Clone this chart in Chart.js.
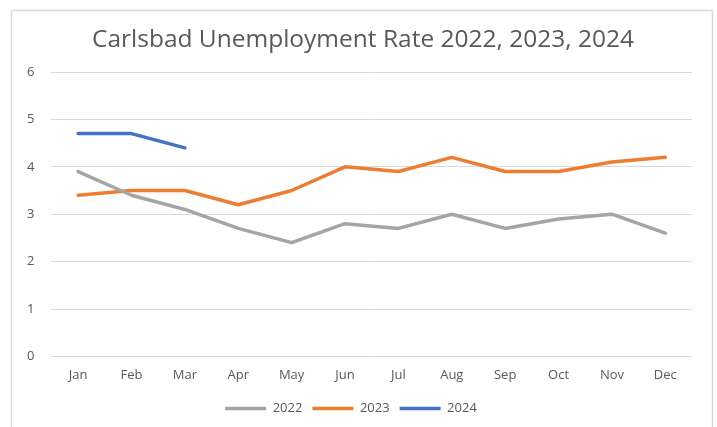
<!DOCTYPE html>
<html>
<head>
<meta charset="utf-8">
<script src="https://cdn.jsdelivr.net/npm/chart.js@4"></script>
<style>
  html, body { margin: 0; padding: 0; background: #fff; }
  #wrap { width: 717px; height: 427px; position: relative; }
</style>
</head>
<body>
<div id="wrap"><canvas id="rateChart"></canvas></div>
<script>
// Meses e taxas de desemprego (%)
const months = ["Jan", "Feb", "Mar", "Apr", "May", "Jun", "Jul", "Aug", "Sep", "Oct", "Nov", "Dec"];
const rate2022 = [3.9, 3.4, 3.1, 2.7, 2.4, 2.8, 2.7, 3.0, 2.7, 2.9, 3.0, 2.6];
const rate2023 = [3.4, 3.5, 3.5, 3.2, 3.5, 4.0, 3.9, 4.2, 3.9, 3.9, 4.1, 4.2];
const rate2024 = [4.7, 4.7, 4.4];
const yTicks = [0, 1, 2, 3, 4, 5, 6];
const titleText = "Carlsbad Unemployment Rate 2022, 2023, 2024";

const textColor = "#595959";
const gridColor = "#d9d9d9";
const fontFamily = "'Open Sans', 'Liberation Sans', sans-serif";

// Moldura cinza e título centrado na moldura
const framePlugin = {
  id: "frame",
  beforeDraw(chart) {
    const ctx = chart.ctx;
    ctx.save();
    ctx.strokeStyle = "#d9d9d9";
    ctx.lineWidth = 1.5;
    ctx.beginPath();
    ctx.moveTo(11.5, 430);
    ctx.lineTo(11.5, 10.5);
    ctx.lineTo(712.5, 10.5);
    ctx.lineTo(712.5, 430);
    ctx.stroke();

    ctx.fillStyle = textColor;
    ctx.font = "24.5px " + fontFamily;
    ctx.textAlign = "center";
    ctx.textBaseline = "middle";
    ctx.fillText(titleText, 363, 40);
    ctx.restore();
  }
};

function line(label, data, color) {
  return {
    label: label,
    data: data,
    borderColor: color,
    backgroundColor: color,
    borderWidth: 3.5,
    pointRadius: 0,
    tension: 0,
    fill: false,
    borderCapStyle: "round",
    borderJoinStyle: "round"
  };
}

new Chart(document.getElementById("rateChart"), {
  type: "line",
  data: {
    labels: months,
    datasets: [
      line("2022", rate2022, "#a5a5a5"),
      line("2023", rate2023, "#ed7d31"),
      line("2024", rate2024, "#4472c4")
    ]
  },
  options: {
    responsive: true,
    maintainAspectRatio: false,
    animation: false,
    layout: { padding: { left: 10, right: 25, top: 72, bottom: 2 } },
    plugins: {
      title: { display: false },
      legend: {
        position: "bottom",
        labels: {
          color: textColor,
          font: { family: fontFamily, size: 13 },
          usePointStyle: true,
          pointStyle: "line",
          pointStyleWidth: 41,
          boxHeight: 4,
          padding: 10
        }
      },
      tooltip: { enabled: false }
    },
    scales: {
      x: {
        offset: true,
        grid: { display: false },
        border: { display: false },
        ticks: {
          color: textColor,
          font: { family: fontFamily, size: 13 },
          padding: 3,
          maxRotation: 0
        },
        afterFit(axis) {
          axis.height += 6;
        }
      },
      y: {
        min: 0,
        max: 6,
        afterBuildTicks(axis) {
          axis.ticks = yTicks.map(v => ({ value: v }));
        },
        grid: { color: gridColor, drawTicks: false, lineWidth: 1 },
        border: { display: false },
        ticks: {
          color: textColor,
          font: { family: fontFamily, size: 13 },
          padding: 17
        }
      }
    }
  },
  plugins: [framePlugin]
});
</script>
</body>
</html>
